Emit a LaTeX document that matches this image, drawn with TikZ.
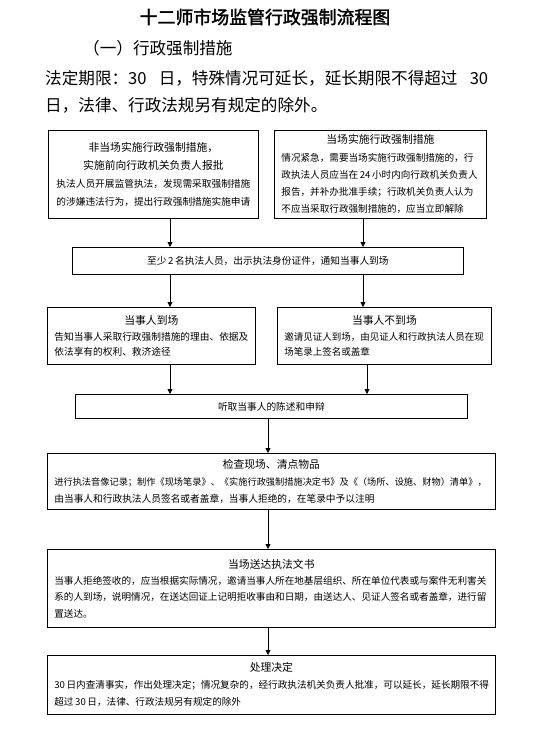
\documentclass[tikz,border=0pt]{standalone}
\usepackage{fontspec}
\setmainfont{Noto Sans CJK SC}
\newfontfamily\hfont[FakeBold=2]{Noto Sans CJK SC}
\usetikzlibrary{arrows.meta}
\newcommand{\tl}[1]{\makebox[\hsize][c]{\fontsize{10.8}{17}\selectfont #1}}
\begin{document}
\begin{tikzpicture}[x=1pt,y=-1pt,
  box/.style={draw,line width=0.8pt,anchor=north west,inner xsep=7pt,inner ysep=0pt,align=left,font=\fontsize{9.7}{17}\selectfont},
  cbox/.style={box,align=center},
  arr/.style={line width=0.8pt,-{Triangle[length=5pt,width=5pt]}}]
\useasboundingbox[fill=white] (0,0) rectangle (533,732);

% headings
\node[inner sep=0pt,font=\hfont\fontsize{17.9}{20}\selectfont] (title) at (265,17) {十二师市场监管行政强制流程图};
\node[anchor=west,inner sep=0pt,font=\fontsize{16.6}{20}\selectfont] (sub) at (83,48) {（一）行政强制措施};
\node[anchor=west,inner sep=0pt,font=\fontsize{16.6}{20}\selectfont] (p1) at (45,78) {\makebox[443pt][s]{法定期限：30 日，特殊情况可延长，延长期限不得超过 30}};
\node[anchor=west,inner sep=0pt,font=\fontsize{16.6}{20}\selectfont] (p2) at (45,105) {日，法律、行政法规另有规定的除外。};

% boxes
\node[cbox,font=\fontsize{9.7}{18.3}\selectfont,text width=196pt,minimum width=210pt,minimum height=88pt] (b1) at (48,130)
 {{\fontsize{10.8}{18.3}\selectfont 非当场实施行政强制措施，}\\{\fontsize{10.8}{18.3}\selectfont 实施前向行政机关负责人报批}\\执法人员开展监管执法，发现需采取强制措施\\的涉嫌违法行为，提出行政强制措施实施申请};
\node[box,font=\fontsize{9.6}{17.25}\selectfont,text width=198pt,minimum width=212pt,minimum height=88pt] (b2) at (274,130)
 {\tl{当场实施行政强制措施}\\情况紧急，需要当场实施行政强制措施的，行\\政执法人员应当在\,24\,小时内向行政机关负责人\\报告，并补办批准手续；行政机关负责人认为\\不应当采取行政强制措施的，应当立即解除};
\node[cbox,text width=377pt,minimum width=391pt,minimum height=27pt] (b3) at (72,247)
 {至少\,2\,名执法人员，出示执法身份证件，通知当事人到场};
\node[box,font=\fontsize{9.7}{15.5}\selectfont,text width=194pt,minimum width=208pt,minimum height=57pt] (b4) at (47,307)
 {\tl{当事人到场}\\告知当事人采取行政强制措施的理由、依据及\\依法享有的权利、救济途径};
\node[box,font=\fontsize{9.5}{15.5}\selectfont,text width=200pt,minimum width=214pt,minimum height=57pt] (b5) at (277,307)
 {\tl{当事人不到场}\\邀请见证人到场，由见证人和行政执法人员在现\\场笔录上签名或盖章};
\node[cbox,text width=378pt,minimum width=392pt,minimum height=24pt] (b6) at (75,394)
 {听取当事人的陈述和申辩};
\node[box,text width=434pt,minimum width=448pt,minimum height=56pt] (b7) at (47,453)
 {\tl{检查现场、清点物品}\\{\fontsize{9.2}{17}\selectfont 进行执法音像记录；制作《现场笔录》、《实施行政强制措施决定书》及《（场所、设施、财物）清单》，}\\由当事人和行政执法人员签名或者盖章，当事人拒绝的，在笔录中予以注明};
\node[box,font=\fontsize{9.6}{16.3}\selectfont,text width=434pt,minimum width=448pt,minimum height=78pt] (b8) at (47,549)
 {\tl{当场送达执法文书}\\当事人拒绝签收的，应当根据实际情况，邀请当事人所在地基层组织、所在单位代表或与案件无利害关\\系的人到场，说明情况，在送达回证上记明拒收事由和日期，由送达人、见证人签名或者盖章，进行留\\置送达。};
\node[box,font=\fontsize{9.6}{17}\selectfont,text width=434pt,minimum width=448pt,minimum height=59pt] (b9) at (47,655)
 {\tl{处理决定}\\30\,日内查清事实，作出处理决定；情况复杂的，经行政执法机关负责人批准，可以延长，延长期限不得\\超过\,30\,日，法律、行政法规另有规定的除外};

% connector columns
\coordinate (cl) at (170,0);
\coordinate (cr) at (363,0);
\coordinate (cr2) at (367,0);
\coordinate (cm) at (268,0);

\draw[arr] (b1.south -| cl) -- (b3.north -| cl);
\draw[arr] (b2.south -| cr) -- (b3.north -| cr);
\draw[arr] (b3.south -| cl) -- (b4.north -| cl);
\draw[arr] (b3.south -| cr) -- (b5.north -| cr);
\draw[arr] (b4.south -| cl) -- (b6.north -| cl);
\draw[arr] (b5.south -| cr2) -- (b6.north -| cr2);
\draw[arr] (b6.south -| cm) -- (b7.north -| cm);
\draw[arr] (b7.south -| cm) -- (b8.north -| cm);
\draw[arr] (b8.south -| cm) -- (b9.north -| cm);
\end{tikzpicture}
\end{document}
